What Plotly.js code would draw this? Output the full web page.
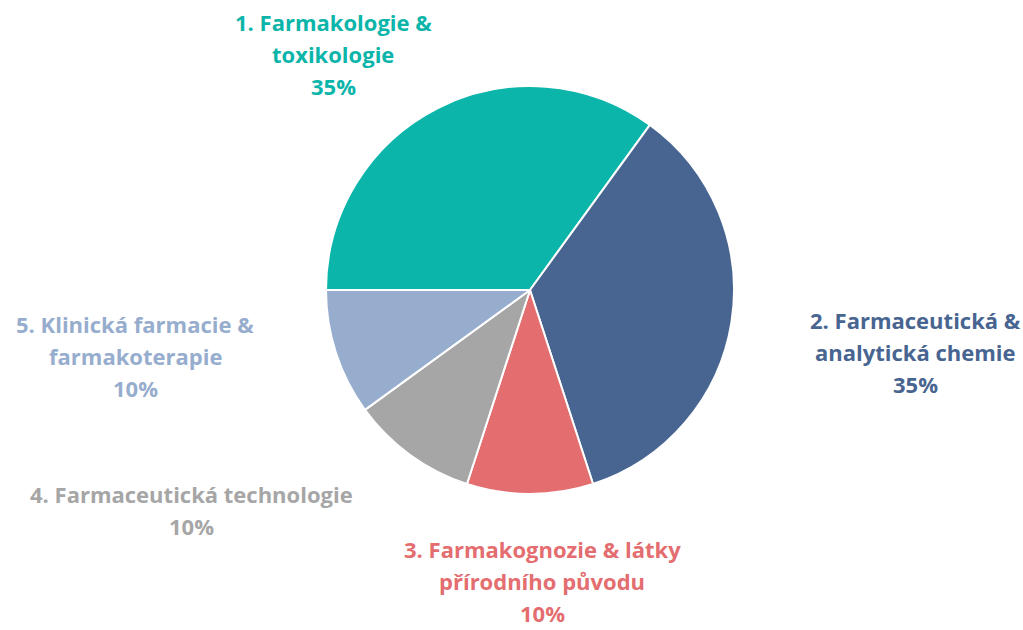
<!DOCTYPE html>
<html>
<head>
<meta charset="utf-8">
<script src="https://cdn.plot.ly/plotly-3.0.1.min.js"></script>
<style>
  html, body { margin: 0; padding: 0; background: #fff; }
  #chart { width: 1023px; height: 630px; }
</style>
</head>
<body>
<div id="chart"></div>
<script>
// data
const categories = [
  "1. Farmakologie & toxikologie",
  "2. Farmaceutická & analytická chemie",
  "3. Farmakognozie & látky přírodního původu",
  "4. Farmaceutická technologie",
  "5. Klinická farmacie & farmakoterapie"
];
const shares = [35, 35, 10, 10, 10];
const labelLines = [
  ["1. Farmakologie &", "toxikologie"],
  ["2. Farmaceutická &", "analytická chemie"],
  ["3. Farmakognozie & látky", "přírodního původu"],
  ["4. Farmaceutická technologie"],
  ["5. Klinická farmacie &", "farmakoterapie"]
];
const colors = ["#0bb5aa", "#486591", "#e36d6f", "#a6a6a6", "#97adce"];

// label anchor (pixel center x, first line center y)
const labelPos = [[333, 22], [915, 320], [542, 549], [191, 494], [135, 324]];
const W = 1023, H = 630, lineStep = 32;

const annotations = [];
categories.forEach((c, i) => {
  const lines = labelLines[i].concat([shares[i] + "%"]);
  lines.forEach((t, k) => {
    annotations.push({
      text: t,
      x: labelPos[i][0] / W,
      y: 1 - (labelPos[i][1] + k * lineStep) / H,
      xref: "paper", yref: "paper",
      xanchor: "center", yanchor: "middle",
      showarrow: false,
      font: { family: "'Open Sans', sans-serif", size: 22, color: colors[i], weight: "bold" }
    });
  });
});

const trace = {
  type: "pie",
  labels: categories,
  values: shares,
  sort: false,
  direction: "clockwise",
  rotation: -90,
  marker: { colors: colors, line: { color: "#ffffff", width: 2 } },
  textinfo: "none",
  hoverinfo: "label+percent",
  domain: { x: [326 / W, 734 / W], y: [1 - 494 / H, 1 - 86 / H] }
};

const layout = {
  width: W,
  height: H,
  margin: { l: 0, r: 0, t: 0, b: 0 },
  showlegend: false,
  paper_bgcolor: "#ffffff",
  annotations: annotations
};

Plotly.newPlot("chart", [trace], layout, { displayModeBar: false });
</script>
</body>
</html>
